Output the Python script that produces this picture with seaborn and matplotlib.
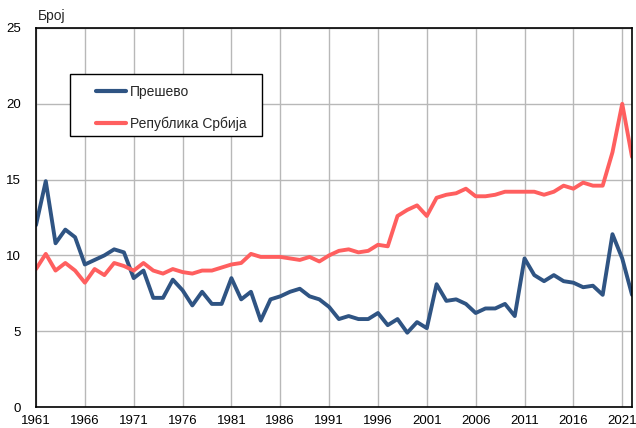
import numpy as np
import pandas as pd
import seaborn as sns
from matplotlib import pyplot as plt
from matplotlib.patches import Rectangle

years = list(range(1961, 2023))

presevo = [12.0, 14.9, 10.8, 11.7, 11.2, 9.4, 9.7, 10.0, 10.4, 10.2,
           8.5, 9.0, 7.2, 7.2, 8.4, 7.7, 6.7, 7.6, 6.8, 6.8,
           8.5, 7.1, 7.6, 5.7, 7.1, 7.3, 7.6, 7.8, 7.3, 7.1,
           6.6, 5.8, 6.0, 5.8, 5.8, 6.2, 5.4, 5.8, 4.9, 5.6,
           5.2, 8.1, 7.0, 7.1, 6.8, 6.2, 6.5, 6.5, 6.8, 6.0,
           9.8, 8.7, 8.3, 8.7, 8.3, 8.2, 7.9, 8.0, 7.4, 11.4,
           9.8, 7.4]

srbija = [9.1, 10.1, 9.0, 9.5, 9.0, 8.2, 9.1, 8.7, 9.5, 9.3,
          9.0, 9.5, 9.0, 8.8, 9.1, 8.9, 8.8, 9.0, 9.0, 9.2,
          9.4, 9.5, 10.1, 9.9, 9.9, 9.9, 9.8, 9.7, 9.9, 9.6,
          10.0, 10.3, 10.4, 10.2, 10.3, 10.7, 10.6, 12.6, 13.0, 13.3,
          12.6, 13.8, 14.0, 14.1, 14.4, 13.9, 13.9, 14.0, 14.2, 14.2,
          14.2, 14.2, 14.0, 14.2, 14.6, 14.4, 14.8, 14.6, 14.6, 16.8,
          20.0, 16.5]

series_names = ["Прешево", "Република Србија"]
colors = ["#2f5483", "#ff5f5f"]

df = pd.DataFrame({
    "Година": years * 2,
    "Број": presevo + srbija,
    "Подручје": [series_names[0]] * len(years) + [series_names[1]] * len(years),
})

sns.set_style("white")
plt.rcParams["font.family"] = ["Liberation Sans", "DejaVu Sans"]

fig = plt.figure(figsize=(6.36, 4.28), dpi=100)
ax = fig.add_axes([36 / 636, 1 - 407 / 428, 596 / 636, 379 / 428])

sns.lineplot(data=df, x="Година", y="Број", hue="Подручје",
             palette=colors, linewidth=2.8, ax=ax)

ax.set_xlim(1961, 2022)
ax.set_ylim(0, 25)
ax.set_xticks(range(1961, 2022, 5))
ax.set_yticks(range(0, 26, 5))
ax.grid(True, axis="both", color="#b8b8b8", linewidth=1)
ax.set_axisbelow(True)
ax.tick_params(axis="both", length=0, labelsize=9.5, colors="black")
ax.tick_params(axis="x", pad=6)
ax.tick_params(axis="y", pad=11)
ax.set_xlabel("")
ax.set_ylabel("")
for s in ax.spines.values():
    s.set_color("black")
    s.set_linewidth(1.2)

fig.text(38 / 636, 1 - 16 / 428, "Број", fontsize=10, va="center", ha="left")

# legend box drawn by hand, entries placed inside it
box = Rectangle((0.057, 0.715), 0.322, 0.164, transform=ax.transAxes,
                facecolor="white", edgecolor="black", linewidth=1.0, zorder=4)
ax.add_patch(box)
leg = ax.legend(loc="upper left", bbox_to_anchor=(0.100, 0.850),
                frameon=False, fontsize=10,
                handlelength=2.2, borderpad=0, labelspacing=1.25,
                handletextpad=0.3, borderaxespad=0)
leg.set_zorder(5)
for line in leg.get_lines():
    line.set_linewidth(3)

fig.savefig("out.png", dpi=100)
